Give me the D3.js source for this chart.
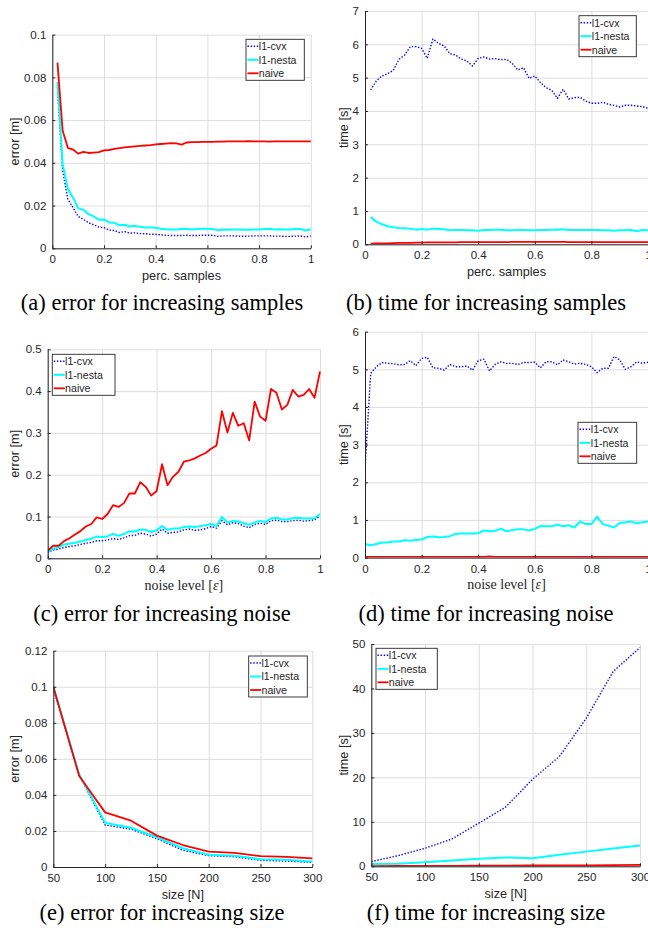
<!DOCTYPE html>
<html>
<head>
<meta charset="utf-8">
<script src="https://cdn.jsdelivr.net/npm/d3@7"></script>
<style>
  html, body { margin: 0; padding: 0; background: #ffffff; }
  svg { display: block; }
</style>
</head>
<body>
<script>
// ---------------- DATA ----------------
const seriesNames = ["l1-cvx", "l1-nesta", "naive"];

const sampX = [0.02,0.04,0.06,0.08,0.10,0.12,0.14,0.16,0.18,0.20,0.22,0.24,0.26,0.28,0.30,0.32,0.34,0.36,0.38,0.40,
  0.42,0.44,0.46,0.48,0.50,0.52,0.54,0.56,0.58,0.60,0.62,0.64,0.66,0.68,0.70,0.72,0.74,0.76,0.78,0.80,
  0.82,0.84,0.86,0.88,0.90,0.92,0.94,0.96,0.98,1.00];

const noiseX = [0,0.02,0.04,0.06,0.08,0.10,0.12,0.14,0.16,0.18,0.20,0.22,0.24,0.26,0.28,0.30,0.32,0.34,0.36,0.38,0.40,
  0.42,0.44,0.46,0.48,0.50,0.52,0.54,0.56,0.58,0.60,0.62,0.64,0.66,0.68,0.70,0.72,0.74,0.76,0.78,0.80,
  0.82,0.84,0.86,0.88,0.90,0.92,0.94,0.96,0.98,1.00];

const sizeX = [50,75,100,125,150,175,200,225,250,275,300];

// (a) error for increasing samples
const errCvxA = [0.0754,0.0363,0.0230,0.0191,0.0149,0.0136,0.0120,0.0110,0.0099,0.0097,0.0085,0.0083,0.0074,0.0078,0.0071,0.0072,0.0069,0.0068,0.0066,0.0065,
  0.0063,0.0061,0.0060,0.0060,0.0060,0.0061,0.0060,0.0060,0.0061,0.0061,0.0061,0.0056,0.0058,0.0058,0.0058,0.0057,0.0056,0.0057,0.0058,0.0058,
  0.0058,0.0058,0.0057,0.0057,0.0056,0.0056,0.0057,0.0058,0.0053,0.0058];
const errNestaA = [0.0778,0.0394,0.0277,0.0238,0.0188,0.0180,0.0160,0.0149,0.0134,0.0135,0.0121,0.0119,0.0108,0.0110,0.0102,0.0105,0.0101,0.0097,0.0097,0.0096,
  0.0091,0.0089,0.0088,0.0088,0.0090,0.0092,0.0088,0.0090,0.0091,0.0091,0.0090,0.0085,0.0088,0.0087,0.0088,0.0088,0.0087,0.0087,0.0088,0.0088,
  0.0090,0.0091,0.0088,0.0089,0.0088,0.0088,0.0090,0.0090,0.0083,0.0089];
const errNaiveA = [0.0869,0.0551,0.0470,0.0462,0.0443,0.0451,0.0446,0.0448,0.0450,0.0458,0.0460,0.0465,0.0469,0.0472,0.0475,0.0477,0.0479,0.0481,0.0483,0.0486,
  0.0488,0.0490,0.0492,0.0491,0.0485,0.0495,0.0497,0.0497,0.0498,0.0498,0.0498,0.0499,0.0499,0.0500,0.0500,0.0500,0.0500,0.0501,0.0500,0.0500,
  0.0500,0.0499,0.0500,0.0500,0.0500,0.0500,0.0500,0.0500,0.0500,0.0500];

// (b) time for increasing samples
const timeCvxB = [4.63,4.90,5.05,5.12,5.22,5.55,5.68,5.93,5.93,5.88,5.58,6.16,6.03,5.95,5.72,5.68,5.56,5.50,5.35,5.58,
  5.62,5.56,5.57,5.54,5.55,5.43,5.23,5.30,4.98,5.05,4.85,4.70,4.62,4.38,4.65,4.36,4.40,4.41,4.30,4.23,
  4.23,4.26,4.20,4.17,4.12,4.17,4.17,4.15,4.13,4.08];
const timeNestaB = [0.82,0.68,0.60,0.54,0.51,0.49,0.48,0.47,0.44,0.46,0.44,0.47,0.46,0.45,0.42,0.43,0.43,0.42,0.42,0.41,
  0.43,0.43,0.44,0.44,0.42,0.42,0.43,0.43,0.42,0.42,0.43,0.43,0.44,0.44,0.45,0.43,0.43,0.43,0.43,0.43,
  0.43,0.42,0.42,0.41,0.42,0.42,0.43,0.39,0.43,0.42];
const timeNaiveB = [0.020,0.025,0.030,0.030,0.035,0.040,0.040,0.045,0.050,0.050,0.055,0.055,0.060,0.060,0.060,0.060,0.065,0.065,0.065,0.065,
  0.065,0.065,0.065,0.065,0.065,0.070,0.070,0.070,0.070,0.070,0.070,0.070,0.070,0.070,0.070,0.065,0.065,0.065,0.065,0.065,
  0.065,0.065,0.065,0.065,0.065,0.065,0.065,0.065,0.065,0.065];

// (c) error for increasing noise
const errCvxC = [0.013,0.020,0.022,0.026,0.028,0.030,0.033,0.036,0.038,0.042,0.042,0.044,0.047,0.045,0.049,0.054,0.055,0.060,0.058,0.053,0.058,
  0.070,0.060,0.062,0.063,0.068,0.070,0.067,0.068,0.071,0.076,0.072,0.090,0.080,0.085,0.083,0.077,0.073,0.081,0.084,0.081,
  0.090,0.091,0.088,0.088,0.090,0.091,0.089,0.090,0.092,0.101];
const errNestaC = [0.015,0.023,0.027,0.033,0.035,0.037,0.040,0.044,0.047,0.052,0.051,0.053,0.058,0.054,0.058,0.065,0.064,0.069,0.068,0.063,0.067,
  0.077,0.068,0.071,0.071,0.075,0.076,0.075,0.077,0.079,0.082,0.077,0.099,0.086,0.089,0.088,0.084,0.080,0.086,0.089,0.087,
  0.095,0.097,0.093,0.093,0.096,0.097,0.095,0.095,0.096,0.106];
const errNaiveC = [0.018,0.030,0.030,0.041,0.048,0.057,0.065,0.076,0.082,0.098,0.094,0.106,0.127,0.123,0.132,0.155,0.155,0.182,0.171,0.150,0.161,
  0.225,0.175,0.195,0.207,0.231,0.234,0.239,0.246,0.252,0.262,0.270,0.352,0.301,0.348,0.317,0.323,0.282,0.375,0.339,0.329,
  0.405,0.396,0.356,0.367,0.403,0.387,0.391,0.405,0.384,0.447];

// (d) time for increasing noise
const timeCvxD = [2.35,4.89,5.07,5.18,5.16,5.15,5.12,5.13,5.23,5.10,5.29,5.32,5.04,5.03,4.98,5.13,5.07,5.07,5.09,4.98,5.23,
  5.27,4.96,5.13,5.20,5.16,5.16,5.13,5.18,5.18,5.19,5.04,5.20,5.20,5.12,5.25,5.20,5.14,5.16,5.13,5.07,
  4.91,5.03,5.03,5.34,5.25,5.00,5.07,5.20,5.16,5.19];
const timeNestaD = [0.36,0.33,0.36,0.40,0.40,0.43,0.43,0.46,0.45,0.47,0.48,0.55,0.56,0.54,0.55,0.57,0.63,0.64,0.64,0.64,0.65,
  0.72,0.70,0.71,0.77,0.70,0.73,0.75,0.75,0.72,0.76,0.84,0.83,0.83,0.88,0.83,0.86,0.80,0.96,0.89,0.89,
  1.09,0.89,0.85,0.80,0.92,0.94,0.96,0.91,0.94,0.96];
const timeNaiveD = [0.02,0.02,0.02,0.02,0.02,0.02,0.02,0.02,0.02,0.02,0.02,0.02,0.02,0.02,0.02,0.02,0.02,0.02,0.02,0.02,0.02,
  0.02,0.03,0.02,0.02,0.02,0.02,0.02,0.02,0.02,0.02,0.02,0.02,0.02,0.02,0.02,0.02,0.02,0.02,0.02,0.02,
  0.02,0.02,0.02,0.02,0.02,0.02,0.02,0.02,0.02,0.02];

// (e) error for increasing size
const errCvxE = [0.099,0.051,0.0233,0.0210,0.0157,0.0093,0.0063,0.0057,0.0037,0.0033,0.0026];
const errNestaE = [0.100,0.0515,0.0245,0.0218,0.0165,0.0104,0.0068,0.0063,0.0043,0.0040,0.0030];
const errNaiveE = [0.100,0.0505,0.0303,0.0257,0.0174,0.0122,0.0085,0.0078,0.0060,0.0056,0.0048];

// (f) time for increasing size
const timeCvxF = [1.05,2.4,4.05,6.15,9.7,13.3,19.6,24.7,33.3,43.8,49.2];
const timeNestaF = [0.5,0.6,0.9,1.3,1.7,2.0,1.8,2.6,3.3,4.0,4.7];
const timeNaiveF = [0.05,0.07,0.09,0.11,0.13,0.15,0.18,0.2,0.23,0.26,0.3];

// tick values
const ticks01 = [0,0.2,0.4,0.6,0.8,1];
const ticksErrA = [0,0.02,0.04,0.06,0.08,0.1];
const ticksTimeB = [0,1,2,3,4,5,6,7];
const ticksErrC = [0,0.1,0.2,0.3,0.4,0.5];
const ticksTimeD = [0,1,2,3,4,5,6];
const ticksSize = [50,100,150,200,250,300];
const ticksErrE = [0,0.02,0.04,0.06,0.08,0.1,0.12];
const ticksTimeF = [0,10,20,30,40,50];

const captions = ["(a) error for increasing samples", "(b) time for increasing samples",
  "(c) error for increasing noise", "(d) time for increasing noise",
  "(e) error for increasing size", "(f) time for increasing size"];

// ---------------- STYLE ----------------
const colors = ["#0000ff", "#00ffff", "#ff0000"];
const widths = [1.4, 2, 1.8];
const dashes = ["1.4,1.7", null, null];
const axisColor = "#262626";
const gridColor = "#dedede";
const sans = "'Liberation Sans', Arial, Helvetica, sans-serif";
const serif = "'Liberation Serif', 'Times New Roman', serif";

const svg = d3.select("body").append("svg").attr("width", 648).attr("height", 928);

const fmt = d => String(+d.toFixed(4));

let clipId = 0;
function panel(cfg) {
  const x = d3.scaleLinear().domain(cfg.xDomain).range([cfg.left, cfg.right]);
  const y = d3.scaleLinear().domain(cfg.yDomain).range([cfg.bottom, cfg.top]);
  const g = svg.append("g");
  const h = cfg.bottom - cfg.top, w = cfg.right - cfg.left;

  // grid
  const gx = g.append("g").attr("transform", `translate(0,${cfg.bottom})`)
    .call(d3.axisBottom(x).tickValues(cfg.xTicks).tickSize(-h).tickFormat(""));
  const gy = g.append("g").attr("transform", `translate(${cfg.left},0)`)
    .call(d3.axisLeft(y).tickValues(cfg.yTicks).tickSize(-w).tickFormat(""));
  [gx, gy].forEach(a => { a.select(".domain").remove(); a.selectAll("line").attr("stroke", gridColor).attr("stroke-width", 1); });

  // lines
  const id = "clip" + (clipId++);
  g.append("clipPath").attr("id", id).append("rect")
    .attr("x", cfg.left).attr("y", cfg.top - 1).attr("width", w + 1).attr("height", h + 1);
  const line = d3.line().x(d => x(d[0])).y(d => y(d[1]));
  const lg = g.append("g").attr("clip-path", `url(#${id})`);
  cfg.series.forEach((s, i) => {
    lg.append("path")
      .datum(cfg.xs.map((xv, j) => [xv, s[j]]))
      .attr("fill", "none")
      .attr("stroke", colors[i])
      .attr("stroke-width", widths[i])
      .attr("stroke-linejoin", "round")
      .attr("stroke-dasharray", dashes[i])
      .attr("d", line);
  });

  // axes
  const ax = g.append("g").attr("transform", `translate(0,${cfg.bottom})`)
    .call(d3.axisBottom(x).tickValues(cfg.xTicks).tickSizeInner(-3).tickSizeOuter(0).tickPadding(6.8).tickFormat(fmt));
  const ay = g.append("g").attr("transform", `translate(${cfg.left},0)`)
    .call(d3.axisLeft(y).tickValues(cfg.yTicks).tickSizeInner(-3).tickSizeOuter(0).tickPadding(6).tickFormat(fmt));
  [ax, ay].forEach(a => {
    a.select(".domain").attr("stroke", axisColor).attr("stroke-width", 1);
    a.selectAll(".tick line").attr("stroke", axisColor).attr("stroke-width", 1);
    a.selectAll("text").attr("fill", axisColor).style("font-family", sans).style("font-size", "11.5px");
  });

  // axis labels
  const xl = g.append("text")
    .attr("x", (cfg.left + cfg.right) / 2).attr("y", cfg.bottom + 31.5)
    .attr("text-anchor", "middle").attr("fill", axisColor);
  if (cfg.xLabelSerif) {
    xl.style("font-family", serif).style("font-size", "14px");
    xl.append("tspan").text("noise level [");
    xl.append("tspan").style("font-style", "italic").text("ε");
    xl.append("tspan").text("]");
  } else {
    xl.style("font-family", sans).style("font-size", "12.7px").text(cfg.xLabel);
  }
  g.append("text")
    .attr("transform", `translate(${cfg.yLabelX},${(cfg.top + cfg.bottom) / 2}) rotate(-90)`)
    .attr("text-anchor", "middle").attr("dy", "0.35em")
    .attr("fill", axisColor).style("font-family", sans).style("font-size", "12.7px")
    .text(cfg.yLabel);

  // legend
  const L = cfg.legend;
  const leg = g.append("g").attr("transform", `translate(${L.x},${L.y})`);
  leg.append("rect").attr("width", L.w).attr("height", 41)
    .attr("fill", "#ffffff").attr("stroke", axisColor).attr("stroke-width", 0.9);
  seriesNames.forEach((n, i) => {
    const yy = 7 + i * 13.5;
    leg.append("line").attr("x1", 1.5).attr("x2", 12.5).attr("y1", yy).attr("y2", yy)
      .attr("stroke", colors[i]).attr("stroke-width", widths[i]).attr("stroke-dasharray", dashes[i]);
    leg.append("text").attr("x", 12.8).attr("y", yy).attr("dy", "0.36em")
      .attr("fill", axisColor).style("font-family", sans).style("font-size", "10.6px").text(n);
  });

  // caption
  svg.append("text").attr("x", cfg.capX).attr("y", cfg.capY)
    .attr("text-anchor", "middle").attr("fill", "#000000")
    .style("font-family", serif).style("font-size", "22.5px").text(cfg.caption);
}

panel({ xDomain: [0, 1], yDomain: [0, 0.1], left: 52.3, right: 310.8, top: 34.6, bottom: 248.3,
  xTicks: ticks01, yTicks: ticksErrA, xs: sampX, series: [errCvxA, errNestaA, errNaiveA],
  xLabel: "perc. samples", yLabel: "error [m]", yLabelX: 15,
  legend: { x: 246, y: 39.3, w: 58.3 }, caption: captions[0], capX: 162, capY: 310 });

panel({ xDomain: [0, 1], yDomain: [0, 7], left: 365, right: 648, top: 11, bottom: 244.3,
  xTicks: ticks01, yTicks: ticksTimeB, xs: sampX, series: [timeCvxB, timeNestaB, timeNaiveB],
  xLabel: "perc. samples", yLabel: "time [s]", yLabelX: 344,
  legend: { x: 579, y: 15.7, w: 57.3 }, caption: captions[1], capX: 486, capY: 310 });

panel({ xDomain: [0, 1], yDomain: [0, 0.5], left: 47.7, right: 320, top: 349.3, bottom: 558.3,
  xTicks: ticks01, yTicks: ticksErrC, xs: noiseX, series: [errCvxC, errNestaC, errNaiveC],
  xLabelSerif: true, yLabel: "error [m]", yLabelX: 15,
  legend: { x: 52.3, y: 354.3, w: 62.7 }, caption: captions[2], capX: 162, capY: 621 });

panel({ xDomain: [0, 1], yDomain: [0, 6], left: 365, right: 648, top: 331.7, bottom: 557.6,
  xTicks: ticks01, yTicks: ticksTimeD, xs: noiseX, series: [timeCvxD, timeNestaD, timeNaiveD],
  xLabelSerif: true, yLabel: "time [s]", yLabelX: 344,
  legend: { x: 578, y: 422.3, w: 58.7 }, caption: captions[3], capX: 486, capY: 621 });

panel({ xDomain: [50, 300], yDomain: [0, 0.12], left: 53.3, right: 312.3, top: 650.7, bottom: 867,
  xTicks: ticksSize, yTicks: ticksErrE, xs: sizeX, series: [errCvxE, errNestaE, errNaiveE],
  xLabel: "size [N]", yLabel: "error [m]", yLabelX: 15,
  legend: { x: 248.7, y: 656, w: 58.6 }, caption: captions[4], capX: 162, capY: 920 });

panel({ xDomain: [50, 300], yDomain: [0, 50], left: 371.3, right: 640, top: 644, bottom: 866.3,
  xTicks: ticksSize, yTicks: ticksTimeF, xs: sizeX, series: [timeCvxF, timeNestaF, timeNaiveF],
  xLabel: "size [N]", yLabel: "time [s]", yLabelX: 344,
  legend: { x: 376, y: 648.3, w: 61.3 }, caption: captions[5], capX: 486, capY: 920 });
</script>
</body>
</html>
